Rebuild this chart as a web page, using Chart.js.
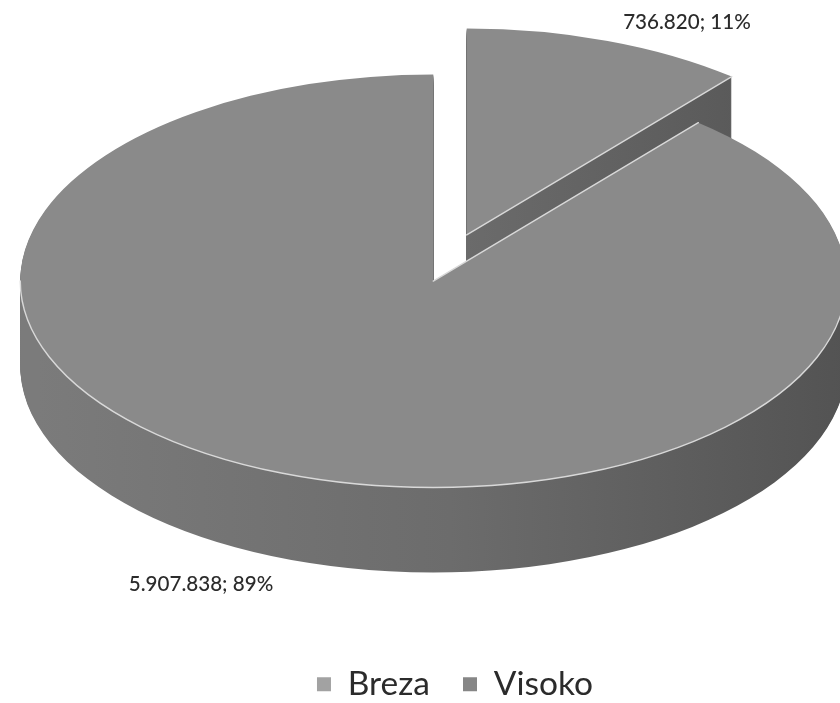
<!DOCTYPE html>
<html>
<head>
<meta charset="utf-8">
<style>
  html, body { margin: 0; padding: 0; background: #fff; overflow: hidden; }
  canvas { display: block; }
</style>
<script src="https://cdn.jsdelivr.net/npm/chart.js@4/dist/chart.umd.min.js"></script>
</head>
<body>
<canvas id="pieChart" width="840" height="703"></canvas>
<script>
// Chart data
const categories = ['Breza', 'Visoko'];
const values = [736820, 5907838];
const percentLabels = ['11%', '89%'];
const sliceColors = ['#8b8b8b', '#8a8a8a'];

// Fake 3D look: the pie is squashed to an ellipse and a wall is stacked below it
const squash = 0.5;
const depth = 85;
const pieRadius = 413;
const explode = 49;
const pieCenterX = 450;
const pieCenterY = 258;

function chartCenter(chart) {
  const area = chart.chartArea;
  return { x: (area.left + area.right) / 2, y: (area.top + area.bottom) / 2 };
}

function applySquash(ctx, center) {
  ctx.translate(pieCenterX, pieCenterY);
  ctx.scale(1, squash);
  ctx.translate(-center.x, -center.y);
}

const pie3d = {
  id: 'pie3d',
  beforeDatasetsDraw(chart) {
    const ctx = chart.ctx;
    const arcs = chart.getDatasetMeta(0).data;
    const center = chartCenter(chart);

    arcs.forEach((arc) => {
      // pull each slice away from the middle along its own mid angle
      const mid = (arc.startAngle + arc.endAngle) / 2;
      arc.x = center.x + Math.cos(mid) * explode;
      arc.y = center.y + Math.sin(mid) * explode;

      const grad = ctx.createLinearGradient(center.x - pieRadius, 0, center.x + pieRadius, 0);
      grad.addColorStop(0, '#7b7b7b');
      grad.addColorStop(0.5, '#6c6c6c');
      grad.addColorStop(1, '#525252');
      for (let d = depth; d >= 1; d--) {
        ctx.save();
        ctx.translate(0, d);
        applySquash(ctx, center);
        ctx.beginPath();
        ctx.moveTo(arc.x, arc.y);
        ctx.arc(arc.x, arc.y, pieRadius, arc.startAngle, arc.endAngle);
        ctx.closePath();
        ctx.fillStyle = grad;
        ctx.fill();
        ctx.restore();
      }
    });

    ctx.save();
    applySquash(ctx, center);
  },
  afterDatasetsDraw(chart) {
    const ctx = chart.ctx;
    ctx.restore();

    // light edges: front rim of the big slice and the cut edges facing the viewer
    const arcs = chart.getDatasetMeta(0).data;
    const small = arcs[0];
    const big = arcs[1];

    ctx.save();
    ctx.strokeStyle = '#d9d9d9';
    ctx.lineWidth = 1.4;
    ctx.lineCap = 'round';

    ctx.save();
    applySquash(ctx, chartCenter(chart));
    ctx.beginPath();
    ctx.arc(big.x, big.y, pieRadius, 0, Math.PI);
    ctx.moveTo(small.x, small.y);
    ctx.lineTo(small.x + Math.cos(small.endAngle) * pieRadius, small.y + Math.sin(small.endAngle) * pieRadius);
    ctx.moveTo(big.x, big.y);
    ctx.lineTo(big.x + Math.cos(big.startAngle) * pieRadius, big.y + Math.sin(big.startAngle) * pieRadius);
    ctx.restore();
    ctx.stroke();
    ctx.restore();
  },
  afterDraw(chart) {
    // data labels, written "value; percent" like the original
    const ctx = chart.ctx;
    const labelX = [687, 201];
    const labelY = [22, 584];
    ctx.save();
    ctx.font = '500 20.6px Lato';
    ctx.fillStyle = '#2b2b2b';
    ctx.textAlign = 'center';
    ctx.textBaseline = 'middle';
    values.forEach((v, i) => {
      const text = v.toLocaleString('de-DE') + '; ' + percentLabels[i];
      ctx.fillText(text, labelX[i], labelY[i]);
    });
    ctx.restore();
  }
};

new Chart(document.getElementById('pieChart').getContext('2d'), {
  type: 'pie',
  data: {
    labels: categories,
    datasets: [
      {
        data: values,
        backgroundColor: sliceColors,
        borderWidth: 0,
        clip: false
      }
    ]
  },
  options: {
    responsive: false,
    animation: false,
    radius: pieRadius,
    layout: { padding: { left: 70, bottom: -8 } },
    plugins: {
      tooltip: { enabled: false },
      legend: {
        position: 'bottom',
        labels: {
          boxWidth: 14,
          boxHeight: 14,
          padding: 33,
          color: '#2b2b2b',
          font: { family: 'Lato', size: 33.5 },
          generateLabels() {
            return categories.map((name, i) => ({
              text: name,
              fillStyle: ['#a2a2a2', '#868686'][i],
              strokeStyle: 'transparent',
              lineWidth: 0,
              fontColor: '#2b2b2b',
              index: i
            }));
          }
        }
      }
    }
  },
  plugins: [pie3d]
});
</script>
</body>
</html>
